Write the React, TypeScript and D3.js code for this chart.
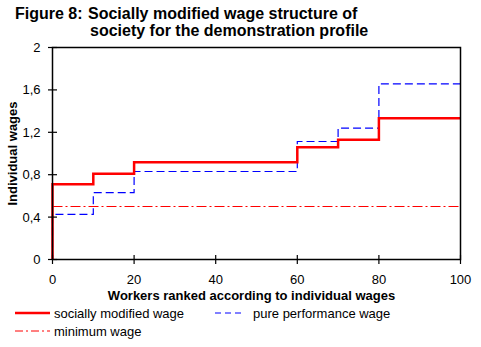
import React from "react";
import * as d3 from "d3";

const xBreaks = [0, 10, 20, 60, 70, 80, 100];
const socialWage = [0.71, 0.81, 0.918, 1.06, 1.13, 1.333];
const performanceWage = [0.425, 0.63, 0.83, 1.113, 1.24, 1.657];
const minimumWage = 0.5;
const xTicks = [0, 20, 40, 60, 80, 100];
const yTicks = [0, 0.4, 0.8, 1.2, 1.6, 2];
const yTickLabels = ["0", "0,4", "0,8", "1,2", "1,6", "2"];

const W = 481, H = 347;
const L = 52.5, R = 460.5, T = 47.5, B = 259.5;

export default function App() {
  const x = d3.scaleLinear().domain([0, 100]).range([L, R]);
  const y = d3.scaleLinear().domain([0, 2]).range([B, T]);

  const stepPts = (vals: number[]) => {
    const pts: [number, number][] = [[0, 0]];
    vals.forEach((v, i) => {
      pts.push([xBreaks[i], v]);
      pts.push([xBreaks[i + 1], v]);
    });
    return pts;
  };
  const line = d3.line<[number, number]>().x(d => x(d[0])).y(d => y(d[1]));
  const font = "'Liberation Sans', Arial, sans-serif";

  return (
    <svg width={W} height={H} style={{ position: "absolute", left: 0, top: 0, background: "#fff" }} fontFamily={font}>
      <rect x={0} y={0} width={W} height={H} fill="#fff" />
      <text x={15} y={19} fontSize={16} fontWeight="bold">Figure 8:</text>
      <text x={88} y={19} fontSize={16} fontWeight="bold">Socially modified wage structure of</text>
      <text x={90} y={36} fontSize={16} fontWeight="bold">society for the demonstration profile</text>

      <line x1={x(0)} x2={x(100)} y1={y(minimumWage)} y2={y(minimumWage)} stroke="#ff0000" strokeWidth={1} strokeDasharray="10,3,2,3" />
      <path d={line(stepPts(performanceWage)) || ""} fill="none" stroke="#0000ff" strokeWidth={1.2} strokeDasharray="8,4" />
      <path d={line(stepPts(socialWage)) || ""} fill="none" stroke="#ff0000" strokeWidth={2.5} />

      <rect x={L} y={T} width={R - L} height={B - T} fill="none" stroke="#000" strokeWidth={1.5} />
      {yTicks.map((t, i) => (
        <g key={t}>
          <line x1={L - 4.5} x2={L + 4.5} y1={y(t)} y2={y(t)} stroke="#000" strokeWidth={1.2} />
          <text x={L - 12} y={y(t) + 4.5} fontSize={13} textAnchor="end">{yTickLabels[i]}</text>
        </g>
      ))}
      {xTicks.map(t => (
        <g key={t}>
          <line x1={x(t)} x2={x(t)} y1={B - 4.5} y2={B + 4.5} stroke="#000" strokeWidth={1.2} />
          <text x={x(t)} y={284} fontSize={13} textAnchor="middle">{t}</text>
        </g>
      ))}
      <text x={(L + R) / 2 - 5} y={299.5} fontSize={13} fontWeight="bold" textAnchor="middle">Workers ranked according to individual wages</text>
      <text transform={`translate(16.5,${(T + B) / 2}) rotate(-90)`} fontSize={13} fontWeight="bold" textAnchor="middle">Individual wages</text>

      <line x1={15} x2={50} y1={313} y2={313} stroke="#ff0000" strokeWidth={2.5} />
      <text x={54} y={318} fontSize={13}>socially modified wage</text>
      <line x1={215} x2={245} y1={313} y2={313} stroke="#0000ff" strokeWidth={1} strokeDasharray="6,4" />
      <text x={253} y={318} fontSize={13}>pure performance wage</text>
      <line x1={15} x2={50} y1={331} y2={331} stroke="#ff0000" strokeWidth={1} strokeDasharray="8,3,2,3" />
      <text x={54} y={336} fontSize={13}>minimum wage</text>
    </svg>
  );
}
